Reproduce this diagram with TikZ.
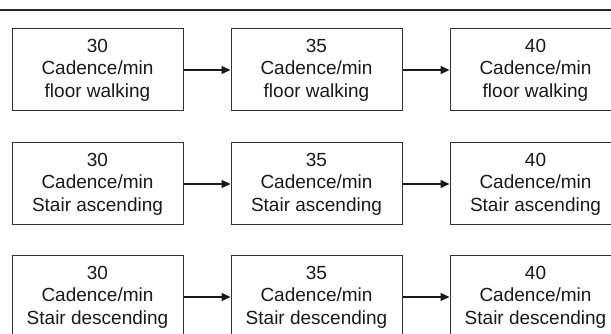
\documentclass[tikz,border=0pt]{standalone}
\usepackage{fontspec}
\setmainfont{Liberation Sans}
\usetikzlibrary{arrows.meta, positioning}

\begin{document}
\begin{tikzpicture}[
    x=1pt, y=1pt,
    trial/.style={draw=black!80, line width=1pt, minimum width=171pt, minimum height=82pt,
                  inner sep=0pt, align=center, text=black!90,
                  font=\fontsize{19}{22.5}\selectfont},
    arr/.style={-{Triangle[length=9pt, width=8pt]}, line width=1.4pt, black!90}
]
\clip (0,0) rectangle (611,334);

% ---- Top rule ----
\coordinate (ruleL) at (0,324);
\coordinate (ruleR) at (611,324);
\draw[line width=1.6pt, black!85] (ruleL) -- (ruleR);

% ---- Rows: cadence 30, 35, 40 ----
\foreach \r/\act/\y in {1/floor walking/264, 2/Stair ascending/150, 3/Stair descending/37} {
    \node[trial] (r\r c1) at (97.5, \y) {30\\Cadence/min\\\act};
    \node[trial, right=47pt of r\r c1] (r\r c2) {35\\Cadence/min\\\act};
    \node[trial, right=47pt of r\r c2] (r\r c3) {40\\Cadence/min\\\act};
    \draw[arr] (r\r c1) -- (r\r c2);
    \draw[arr] (r\r c2) -- (r\r c3);
}

\end{tikzpicture}
\end{document}
